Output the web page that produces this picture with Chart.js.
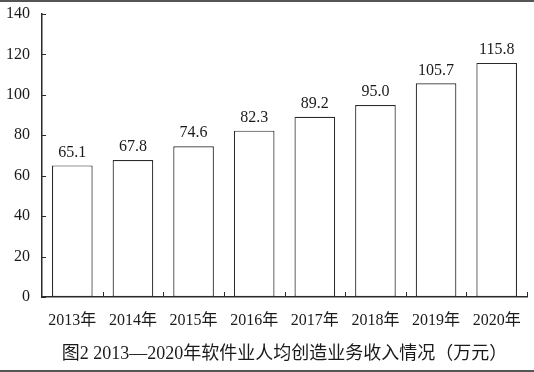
<!DOCTYPE html>
<html lang="zh">
<head>
    <meta charset="UTF-8">
    <title>软件业人均创造业务收入情况</title>
    <script src="https://cdn.jsdelivr.net/npm/chart.js"></script>
    <style>
        html, body { margin: 0; padding: 0; background: #fff; }
        .wrap { width: 534px; height: 372px; position: relative; }
    </style>
</head>
<body>
    <div class="wrap"><canvas id="incomeChart"></canvas></div>

    <script>
        const years = ['2013年', '2014年', '2015年', '2016年', '2017年', '2018年', '2019年', '2020年'];
        const incomePerHead = [65.1, 67.8, 74.6, 82.3, 89.2, 95.0, 105.7, 115.8];
        const yTicks = [0, 20, 40, 60, 80, 100, 120, 140];
        const caption = '图2 2013—2020年软件业人均创造业务收入情况（万元）';

        const fontFam = '"Liberation Serif", "Noto Sans CJK SC", serif';
        const ink = '#2a2a2a';

        // inside ticks, value labels, caption and frame lines
        const decorate = {
            id: 'decorate',
            afterDraw(chart) {
                const ctx = chart.ctx;
                const x = chart.scales.x, y = chart.scales.y;
                ctx.save();
                ctx.strokeStyle = ink;
                ctx.lineWidth = 1;
                // y ticks pointing right
                yTicks.forEach(v => {
                    const py = Math.round(y.getPixelForValue(v)) + 0.5;
                    ctx.beginPath();
                    ctx.moveTo(x.left, py);
                    ctx.lineTo(x.left + 4, py);
                    ctx.stroke();
                });
                // x ticks at category boundaries pointing up
                const step = (x.right - x.left) / years.length;
                for (let i = 1; i <= years.length; i++) {
                    const px = Math.round(x.left + step * i) + 0.5;
                    ctx.beginPath();
                    ctx.moveTo(px, y.bottom);
                    ctx.lineTo(px, y.bottom - 5);
                    ctx.stroke();
                }
                // value labels
                ctx.fillStyle = '#1a1a1a';
                ctx.font = '16px ' + fontFam;
                ctx.textAlign = 'center';
                ctx.textBaseline = 'bottom';
                chart.getDatasetMeta(0).data.forEach((bar, i) => {
                    ctx.fillText(incomePerHead[i].toFixed(1), bar.x, bar.y - 5);
                });
                // caption, centred under the plot area
                ctx.font = '18px ' + fontFam;
                ctx.textBaseline = 'middle';
                ctx.fillText(caption, (x.left + x.right) / 2, 354);
                // frame lines
                ctx.fillStyle = '#555';
                ctx.fillRect(0, 0, chart.width, 2);
                ctx.fillRect(0, 370, chart.width, 2);
                ctx.restore();
            }
        };

        new Chart(document.getElementById('incomeChart'), {
            type: 'bar',
            data: {
                labels: years,
                datasets: [{
                    data: incomePerHead,
                    backgroundColor: '#fff',
                    borderColor: ink,
                    borderWidth: 1.2,
                    borderSkipped: false,
                    barPercentage: 0.67,
                    categoryPercentage: 1
                }]
            },
            options: {
                responsive: true,
                maintainAspectRatio: false,
                animation: false,
                layout: { padding: { top: 14, right: 7, bottom: 0, left: 0 } },
                plugins: { legend: { display: false }, tooltip: { enabled: false } },
                scales: {
                    x: {
                        grid: { display: false, drawTicks: false },
                        border: { display: true, color: ink, width: 1.5 },
                        ticks: { color: '#1a1a1a', font: { size: 16, family: fontFam }, padding: 14 },
                        afterFit(scale) { scale.height = 75; scale.paddingLeft = 0; scale.paddingRight = 0; }
                    },
                    y: {
                        min: 0,
                        max: 140,
                        grid: { display: false, drawTicks: false },
                        border: { display: true, color: ink, width: 1.5 },
                        ticks: { stepSize: 20, color: '#1a1a1a', font: { size: 16, family: fontFam }, padding: 12 },
                        afterFit(scale) { scale.width = 42; scale.paddingTop = 0; scale.paddingBottom = 0; }
                    }
                }
            },
            plugins: [decorate]
        });
    </script>
</body>
</html>
